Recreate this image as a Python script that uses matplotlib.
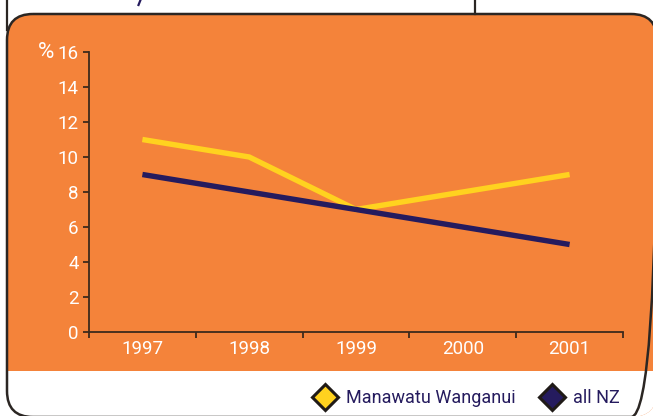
import matplotlib.pyplot as plt
from matplotlib.patches import FancyBboxPatch, Rectangle

years = ["1997", "1998", "1999", "2000", "2001"]
manawatu = [11, 10, 7, 8, 9]
all_nz = [9, 8, 7, 6, 5]
y_ticks = [0, 2, 4, 6, 8, 10, 12, 14, 16]

ORANGE = "#f4833a"
YELLOW = "#ffd21f"
NAVY = "#251b5e"
EDGE = "#2b2623"
SPINE = "#3d2a1c"

plt.rcParams["font.family"] = ["Roboto", "DejaVu Sans"]

W, H = 653, 416
fig = plt.figure(figsize=(W / 100, H / 100), dpi=100)

# background layer in pixel coords (y down)
bg = fig.add_axes([0, 0, 1, 1])
bg.set_xlim(0, W)
bg.set_ylim(H, 0)
bg.axis("off")

# bits of the box above that got cropped
bg.plot([7, 7], [0, 30], color=EDGE, lw=1.6)
bg.plot([475, 475], [0, 14], color=EDGE, lw=1.6)
bg.plot([140.5, 138.5], [0, 5], color=NAVY, lw=1.6)

R = 26
x0, y0, x1, y1 = 7, 14, 657, 417
box = FancyBboxPatch((x0 + R, y0 + R), x1 - x0 - 2 * R, y1 - y0 - 2 * R,
                     boxstyle=f"round,pad={R}", fc=ORANGE, ec="none", zorder=1)
bg.add_patch(box)
white = Rectangle((0, 371), W, 60, fc="white", ec="none", zorder=2)
bg.add_patch(white)
white.set_clip_path(box)
outline = FancyBboxPatch((x0 + R, y0 + R), x1 - x0 - 2 * R, y1 - y0 - 2 * R,
                         boxstyle=f"round,pad={R}", fc="none", ec=EDGE, lw=1.8, zorder=3)
bg.add_patch(outline)

# legend
bg.plot([325], [397], marker="D", ms=13.5, mfc=YELLOW, mec="#1f1a17", mew=2.2, zorder=4)
bg.text(346, 398, "Manawatu Wanganui", color=NAVY, fontsize=13, va="center", ha="left", zorder=4)
bg.plot([552], [397], marker="D", ms=13.5, mfc=NAVY, mec="#1f1a17", mew=2.2, zorder=4)
bg.text(573, 398, "all NZ", color=NAVY, fontsize=13, va="center", ha="left", zorder=4)

bg.text(54, 52, "%", color="white", fontsize=16, ha="right", va="center", zorder=4)

# chart
ax = fig.add_axes([89 / W, (H - 332) / H, (623 - 89) / W, (332 - 52) / H])
ax.patch.set_alpha(0)
x = list(range(len(years)))
ax.plot(x, manawatu, color=YELLOW, lw=3.9, solid_joinstyle="miter", solid_capstyle="butt")
ax.plot(x, all_nz, color=NAVY, lw=3.9, solid_joinstyle="miter", solid_capstyle="butt")

ax.set_xlim(-0.5, len(years) - 0.5)
ax.set_ylim(0, 16)
ax.set_yticks(y_ticks)
ax.set_yticklabels([str(v) for v in y_ticks])
ax.set_xticks(x)
ax.set_xticklabels(years)
ax.set_xticks([i - 0.5 for i in range(len(years) + 1)], minor=True)

for s in ["top", "right"]:
    ax.spines[s].set_visible(False)
for s in ["left", "bottom"]:
    ax.spines[s].set_color(SPINE)
    ax.spines[s].set_linewidth(1.3)

ax.tick_params(axis="y", length=4.5, width=1.3, color=SPINE, labelcolor="white",
               labelsize=13.5, pad=3)
ax.tick_params(axis="x", which="major", length=0, labelcolor="white", labelsize=13.5, pad=6)
ax.tick_params(axis="x", which="minor", length=4.5, width=1.3, color=SPINE)

fig.savefig("out.png", dpi=100)
